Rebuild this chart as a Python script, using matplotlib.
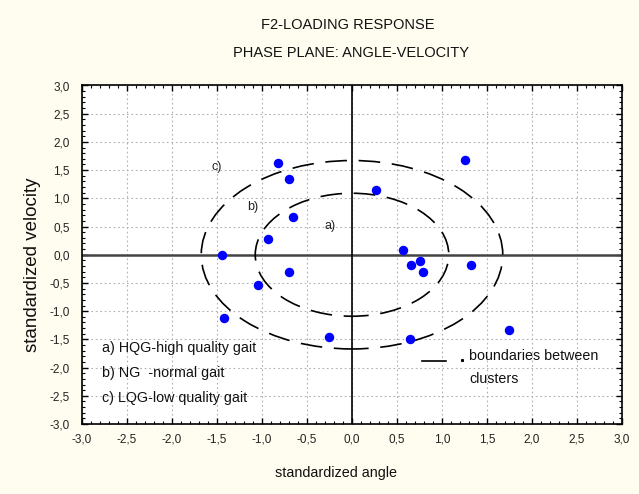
import matplotlib
matplotlib.use("Agg")
import matplotlib.pyplot as plt
from matplotlib.patches import Ellipse, Rectangle
from matplotlib.ticker import MultipleLocator, FuncFormatter

plt.rcParams['font.family'] = ['Liberation Sans', 'DejaVu Sans']

# data
angle = [-0.82, -0.70, -0.66, -0.93, -1.44, -0.70, -1.04, -1.42, -0.26,
         0.27, 1.25, 0.57, 0.76, 0.66, 0.79, 1.32, 1.74, 0.64]
velocity = [1.63, 1.35, 0.67, 0.28, 0.00, -0.30, -0.53, -1.12, -1.45,
            1.15, 1.68, 0.09, -0.11, -0.19, -0.31, -0.19, -1.34, -1.50]

# cluster boundaries: (center_x, center_y, half_width, half_height)
boundaries = [(0.0, 0.0, 1.075, 1.09), (0.0, 0.0, 1.675, 1.67)]
cluster_labels = ["a)", "b)", "c)"]
cluster_label_pos = [(-0.24, 0.51), (-1.10, 0.84), (-1.50, 1.55)]
legend_lines = ["a) HQG-high quality gait", "b) NG  -normal gait", "c) LQG-low quality gait"]
ticks = [-3.0, -2.5, -2.0, -1.5, -1.0, -0.5, 0.0, 0.5, 1.0, 1.5, 2.0, 2.5, 3.0]

bg = '#fffdf0'
fig = plt.figure(figsize=(6.39, 4.94), dpi=100, facecolor=bg)
ax = fig.add_axes([82/639, 1-424/494, 540/639, 338.5/494])
ax.set_facecolor('white')
ax.set_xlim(-3, 3)
ax.set_ylim(-3, 3)

ax.grid(True, which='major', linestyle=(0, (1.5, 2.5)), color='#b0b0b0', linewidth=0.8, zorder=0)
ax.set_axisbelow(True)

fmt = FuncFormatter(lambda v, p: f"{v:.1f}".replace('.', ','))
ax.set_xticks(ticks)
ax.set_yticks(ticks)
ax.xaxis.set_major_formatter(fmt)
ax.yaxis.set_major_formatter(fmt)
ax.xaxis.set_minor_locator(MultipleLocator(0.1))
ax.yaxis.set_minor_locator(MultipleLocator(0.1))
ax.tick_params(which='both', direction='in', top=True, right=True, colors='black',
               labelsize=8.5, labelcolor='#222222')
ax.tick_params(which='major', length=4, width=1)
ax.tick_params(which='minor', length=2, width=0.8)
ax.tick_params(axis='x', pad=7)
ax.tick_params(axis='y', pad=9)
for s in ax.spines.values():
    s.set_linewidth(1.2)

ax.axhline(0, color='#444444', linewidth=1.8, zorder=1)
ax.axvline(0, color='black', linewidth=1.2, zorder=1)

# white boxes behind legend texts
ax.add_patch(Rectangle((0.0315, 0.0266), 0.324, 0.233, transform=ax.transAxes,
                       facecolor='white', edgecolor='none', zorder=0.5))
ax.add_patch(Rectangle((0.7056, 0.018), 0.292, 0.227, transform=ax.transAxes,
                       facecolor='white', edgecolor='none', zorder=0.5))

for cx, cy, hw, hh in boundaries:
    ax.add_patch(Ellipse((cx, cy), 2*hw, 2*hh, fill=False, edgecolor='black',
                         linewidth=1.2, linestyle=(3, (13, 7)), zorder=2))

ax.plot(angle, velocity, 'o', color='#0000ff', markersize=5.8, zorder=3)

for lab, (lx, ly) in zip(cluster_labels, cluster_label_pos):
    ax.text(lx, ly, lab, fontsize=9, ha='center', va='center', color='#222222', zorder=4)

for i, t in enumerate(legend_lines):
    ax.text(0.0365, [0.2245, 0.1515, 0.0759][i], t, transform=ax.transAxes, fontsize=10.3,
            ha='left', va='center', color='#111111', zorder=4)

ax.plot([0.629, 0.6735], [0.186, 0.186], color='black', linewidth=1.2, transform=ax.transAxes, zorder=4)
ax.plot([0.7031], [0.189], 's', color='black', markersize=1.2, transform=ax.transAxes, zorder=4)
ax.text(0.717, 0.2009, "boundaries between", transform=ax.transAxes, fontsize=10.3,
        ha='left', va='center', color='#111111', zorder=4)
ax.text(0.717, 0.132, "clusters", transform=ax.transAxes, fontsize=10.3,
        ha='left', va='center', color='#111111', zorder=4)

fig.text(347.5/639, 1-25/494, "F2-LOADING RESPONSE", fontsize=10.5, ha='center', va='center', color='#111111')
fig.text(351.5/639, 1-53/494, "PHASE PLANE: ANGLE-VELOCITY", fontsize=10.5, ha='center', va='center', color='#111111')
fig.text(336/639, 1-473/494, "standardized angle", fontsize=10.4, ha='center', va='center', color='#111111')
fig.text(33/639, 1-265/494, "standardized velocity", fontsize=13.5, ha='center', va='center',
         rotation=90, color='#111111')

fig.savefig('out.png', dpi=100, facecolor=bg)
